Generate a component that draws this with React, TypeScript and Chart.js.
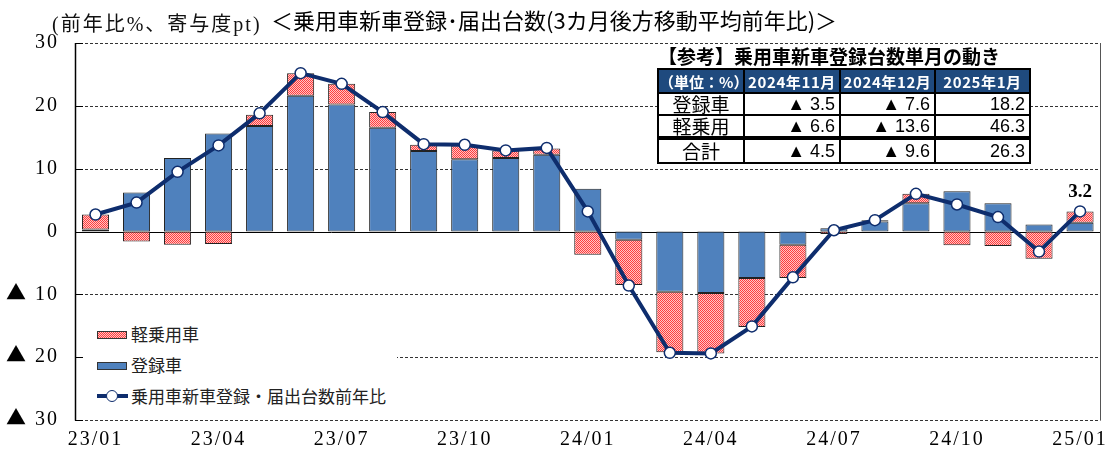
import React, { useEffect, useRef } from "react";
import { Chart, registerables } from "chart.js";

Chart.register(...registerables);

const months = [
  "23/01", "23/02", "23/03", "23/04", "23/05", "23/06", "23/07", "23/08", "23/09", "23/10", "23/11", "23/12",
  "24/01", "24/02", "24/03", "24/04", "24/05", "24/06", "24/07", "24/08", "24/09", "24/10", "24/11", "24/12",
  "25/01",
];
const registered = [0.3, 6.2, 11.7, 15.6, 16.8, 21.6, 20.2, 16.5, 12.8, 11.5, 11.7, 12.2, 6.8, -1.3, -9.6, -9.8, -7.4, -2.1, 0.5, 1.6, 4.5, 6.4, 4.5, 1.1, 1.4];
const keiCars = [2.4, -1.6, -2.1, -2.0, 1.8, 3.6, 3.3, 2.5, 1.0, 2.2, 1.2, 1.0, -3.7, -7.2, -9.6, -9.6, -7.8, -5.3, -0.4, 0.2, 1.5, -2.2, -2.3, -4.35, 1.8];
const totalYoY = [2.7, 4.6, 9.5, 13.7, 18.8, 25.2, 23.5, 19.0, 13.9, 13.8, 12.9, 13.3, 3.2, -8.6, -19.3, -19.4, -15.1, -7.3, 0.2, 1.8, 6.0, 4.3, 2.3, -3.2, 3.2];
const yTicks = [30, 20, 10, 0, -10, -20, -30];

const seriesNames = ["軽乗用車", "登録車", "乗用車新車登録・届出台数前年比"];

const tableTitle = "【参考】乗用車新車登録台数単月の動き";
const tableUnit = "（単位：%）";
const tableCols = ["2024年11月", "2024年12月", "2025年1月"];
const tableRowNames = ["登録車", "軽乗用", "合計"];
const tableRegistered = [-3.5, -7.6, 18.2];
const tableKei = [-6.6, -13.6, 46.3];
const tableTotal = [-4.5, -9.6, 26.3];

const NAVY = "#0E2D6D";
const BLUE = "#4F81BD";
const SERIF = "TriSerif, 'Liberation Serif', 'Noto Sans CJK JP', serif";
const fmtTri = (v: number) => (v < 0 ? "▲ " + (-v).toFixed(1) : v.toFixed(1));

if (typeof document !== "undefined" && !document.getElementById("tri-font")) {
  const st = document.createElement("style");
  st.id = "tri-font";
  st.textContent =
    "@font-face{font-family:'TriSerif';src:local('Noto Sans CJK JP'),local('NotoSansCJKjp-Regular'),local('Noto Sans CJK JP Regular');unicode-range:U+25B2;}";
  document.head.appendChild(st);
}

function makePattern(): CanvasPattern | string {
  const c = document.createElement("canvas");
  c.width = 2;
  c.height = 2;
  const g = c.getContext("2d");
  if (!g) return "#ff6b6b";
  g.fillStyle = "#ffc4c4";
  g.fillRect(0, 0, 2, 2);
  g.fillStyle = "#ff3c3c";
  g.fillRect(0, 0, 1, 1);
  g.fillRect(1, 1, 1, 1);
  const p = g.createPattern(c, "repeat");
  return p || "#ff6b6b";
}

const gridPlugin = {
  id: "customGrid",
  beforeDraw(chart: any) {
    (chart.ctx as any).letterSpacing = "2px";
  },
  beforeDatasetsDraw(chart: any) {
    const { ctx, chartArea } = chart;
    (ctx as any).letterSpacing = "0px";
    const y = chart.scales.y;
    ctx.save();
    yTicks.forEach((v) => {
      const py = Math.round(y.getPixelForValue(v)) + 0.5;
      ctx.beginPath();
      ctx.lineWidth = 1;
      if (v === 0) {
        ctx.setLineDash([]);
        ctx.strokeStyle = "#000";
      } else {
        ctx.setLineDash([3, 2]);
        ctx.strokeStyle = "#333";
      }
      ctx.moveTo(chartArea.left, py);
      ctx.lineTo(chartArea.right, py);
      ctx.stroke();
    });
    ctx.setLineDash([]);
    ctx.strokeStyle = "#555";
    ctx.lineWidth = 1;
    ctx.beginPath();
    ctx.moveTo(Math.round(chartArea.right) - 0.5, chartArea.top);
    ctx.lineTo(Math.round(chartArea.right) - 0.5, chartArea.bottom);
    ctx.stroke();
    ctx.restore();
  },
  afterDraw(chart: any) {
    const { ctx, chartArea } = chart;
    (ctx as any).letterSpacing = "0px";
    const y = chart.scales.y;
    ctx.save();
    ctx.strokeStyle = "#000";
    ctx.lineWidth = 1.5;
    ctx.beginPath();
    ctx.moveTo(chartArea.left + 0.5, chartArea.top);
    ctx.lineTo(chartArea.left + 0.5, chartArea.bottom + 0.5);
    ctx.stroke();
    ctx.lineWidth = 1;
    yTicks.forEach((v) => {
      const py = Math.round(y.getPixelForValue(v)) + 0.5;
      ctx.beginPath();
      ctx.moveTo(chartArea.left, py);
      ctx.lineTo(chartArea.left + 8, py);
      ctx.stroke();
    });
    const meta = chart.getDatasetMeta(2);
    const last = meta.data[meta.data.length - 1];
    if (last) {
      ctx.fillStyle = "#000";
      ctx.font = "bold 19px 'Liberation Serif', serif";
      ctx.textAlign = "center";
      ctx.textBaseline = "alphabetic";
      ctx.fillText(totalYoY[totalYoY.length - 1].toFixed(1), last.x, last.y - 14);
    }
    ctx.restore();
  },
};

const cellBase: React.CSSProperties = {
  border: "2px solid #000",
  padding: "0 4px",
  boxSizing: "border-box",
};

export default function App() {
  const ref = useRef<HTMLCanvasElement | null>(null);

  useEffect(() => {
    let chart: Chart | null = null;
    let cancelled = false;
    const build = () => {
      if (cancelled || !ref.current) return;
      const pattern = makePattern();
      chart = new Chart(ref.current, {
        type: "bar",
        data: {
          labels: months,
          datasets: [
            {
              type: "line" as const,
              label: seriesNames[2],
              data: totalYoY,
              borderColor: NAVY,
              borderWidth: 4,
              pointRadius: 5.5,
              pointBackgroundColor: "#fff",
              pointBorderColor: NAVY,
              pointBorderWidth: 1.5,
              tension: 0,
              order: 0,
            } as any,
            {
              type: "bar" as const,
              label: seriesNames[1],
              data: registered,
              backgroundColor: BLUE,
              borderColor: "#222",
              borderWidth: 1,
              borderSkipped: false,
              stack: "s",
              order: 1,
              categoryPercentage: 1,
              barPercentage: 0.66,
            } as any,
            {
              type: "bar" as const,
              label: seriesNames[0],
              data: keiCars,
              backgroundColor: pattern,
              borderColor: "#222",
              borderWidth: 1,
              borderSkipped: false,
              stack: "s",
              order: 2,
              categoryPercentage: 1,
              barPercentage: 0.66,
            } as any,
          ],
        },
        options: {
          responsive: false,
          animation: false,
          devicePixelRatio: 1,
          layout: { padding: { top: 43, right: 9, left: 0, bottom: 0 } },
          plugins: { legend: { display: false }, tooltip: { enabled: false }, title: { display: false } },
          scales: {
            x: {
              stacked: true,
              offset: true,
              grid: { display: false, drawTicks: false },
              border: { display: false },
              ticks: {
                autoSkip: false,
                maxRotation: 0,
                minRotation: 0,
                padding: 8,
                color: "#000",
                font: { family: SERIF, size: 20 },
                callback: (_v: any, i: number) => (i % 3 === 0 ? months[i] : ""),
              },
              afterFit: (s: any) => {
                s.height = 34;
              },
            },
            y: {
              stacked: true,
              min: -30,
              max: 30,
              grid: { display: false, drawTicks: false },
              border: { display: false },
              ticks: {
                stepSize: 10,
                padding: 16,
                color: "#000",
                font: { family: SERIF, size: 20 },
                callback: (v: any) => (Number(v) < 0 ? "▲ " + -Number(v) : String(v)),
              },
              afterFit: (s: any) => {
                s.width = 75;
              },
            },
          },
        },
        plugins: [gridPlugin],
      });
    };
    const fonts: any = (document as any).fonts;
    if (fonts && fonts.load) {
      fonts.load("20px TriSerif", "▲").then(build, build);
    } else {
      build();
    }
    return () => {
      cancelled = true;
      if (chart) chart.destroy();
    };
  }, []);

  const rows = [tableRegistered, tableKei, tableTotal];

  return (
    <div style={{ position: "absolute", left: 0, top: 0, width: 1111, height: 454, background: "#fff", overflow: "hidden" }}>
      <canvas ref={ref} width={1111} height={454} style={{ position: "absolute", left: 0, top: 0, width: 1111, height: 454 }} />
      <div
        style={{
          position: "absolute",
          left: 52,
          top: 8,
          fontFamily: "'Liberation Serif', 'Noto Sans CJK JP', serif",
          fontSize: 20,
          letterSpacing: 2,
          whiteSpace: "nowrap",
          color: "#111",
        }}
      >
        (前年比%、寄与度pt)
      </div>
      <div
        style={{
          position: "absolute",
          left: 271,
          top: 3,
          fontFamily: "'Noto Sans CJK JP', sans-serif",
          fontSize: 22,
          whiteSpace: "nowrap",
          color: "#000",
        }}
      >
        ＜乗用車新車登録･届出台数(3カ月後方移動平均前年比)＞
      </div>

      <div
        style={{
          position: "absolute",
          left: 658,
          top: 44,
          fontFamily: "'Noto Sans CJK JP', sans-serif",
          fontWeight: 700,
          fontSize: 19,
          whiteSpace: "nowrap",
          lineHeight: "24px",
          color: "#000",
        }}
      >
        {tableTitle}
      </div>
      <table
        style={{
          position: "absolute",
          left: 657,
          top: 68,
          borderCollapse: "collapse",
          background: "#fff",
          tableLayout: "fixed",
          width: 372,
        }}
      >
        <colgroup>
          <col style={{ width: 86 }} />
          <col style={{ width: 96 }} />
          <col style={{ width: 95 }} />
          <col style={{ width: 95 }} />
        </colgroup>
        <tbody>
          <tr style={{ height: 24 }}>
            {[tableUnit, ...tableCols].map((t, i) => (
              <td
                key={i}
                style={{
                  ...cellBase,
                  background: "#1F4A7E",
                  color: "#fff",
                  fontFamily: "'Noto Sans CJK JP', sans-serif",
                  fontWeight: 700,
                  fontSize: 15,
                  letterSpacing: i === 0 ? 0 : 0.6,
                  textAlign: "center",
                  padding: 0,
                  whiteSpace: "nowrap",
                  overflow: "hidden",
                }}
              >
                {t}
              </td>
            ))}
          </tr>
          {rows.map((vals, r) => (
            <tr key={r} style={{ height: r === 2 ? 25 : 22 }}>
              <td
                style={{
                  ...cellBase,
                  borderTop: r === 2 ? "4px solid #000" : cellBase.border,
                  fontFamily: "'Noto Sans CJK JP', sans-serif",
                  fontSize: 19,
                  textAlign: "center",
                  lineHeight: "20px",
                }}
              >
                {tableRowNames[r]}
              </td>
              {vals.map((v, c) => (
                <td
                  key={c}
                  style={{
                    ...cellBase,
                    borderTop: r === 2 ? "4px solid #000" : cellBase.border,
                    fontFamily: "'Liberation Sans', 'Noto Sans CJK JP', sans-serif",
                    fontSize: 18,
                    textAlign: "right",
                    lineHeight: "20px",
                    whiteSpace: "pre",
                  }}
                >
                  {fmtTri(v)}
                </td>
              ))}
            </tr>
          ))}
        </tbody>
      </table>

      <div
        style={{
          position: "absolute",
          left: 84,
          top: 318,
          width: 313,
          height: 94,
          background: "#fff",
          fontFamily: "'Noto Sans CJK JP', sans-serif",
          fontSize: 17,
          color: "#222",
        }}
      >
        <div style={{ position: "absolute", left: 13, top: 13, width: 30, height: 8, border: "1px solid #333", boxSizing: "border-box", background: "repeating-conic-gradient(#ff3c3c 0 25%, #ffc4c4 0 50%) 0 0/2px 2px" }} />
        <div style={{ position: "absolute", left: 47, top: 4, lineHeight: "24px", whiteSpace: "nowrap" }}>{seriesNames[0]}</div>
        <div style={{ position: "absolute", left: 13, top: 44, width: 30, height: 8, border: "1px solid #333", boxSizing: "border-box", background: BLUE }} />
        <div style={{ position: "absolute", left: 47, top: 35, lineHeight: "24px", whiteSpace: "nowrap" }}>{seriesNames[1]}</div>
        <div style={{ position: "absolute", left: 13, top: 76, width: 31, height: 4, background: NAVY }} />
        <div style={{ position: "absolute", left: 22, top: 72, width: 12, height: 12, borderRadius: 6, border: `1.5px solid ${NAVY}`, background: "#fff", boxSizing: "border-box" }} />
        <div style={{ position: "absolute", left: 47, top: 66, lineHeight: "24px", whiteSpace: "nowrap" }}>{seriesNames[2]}</div>
      </div>
    </div>
  );
}
